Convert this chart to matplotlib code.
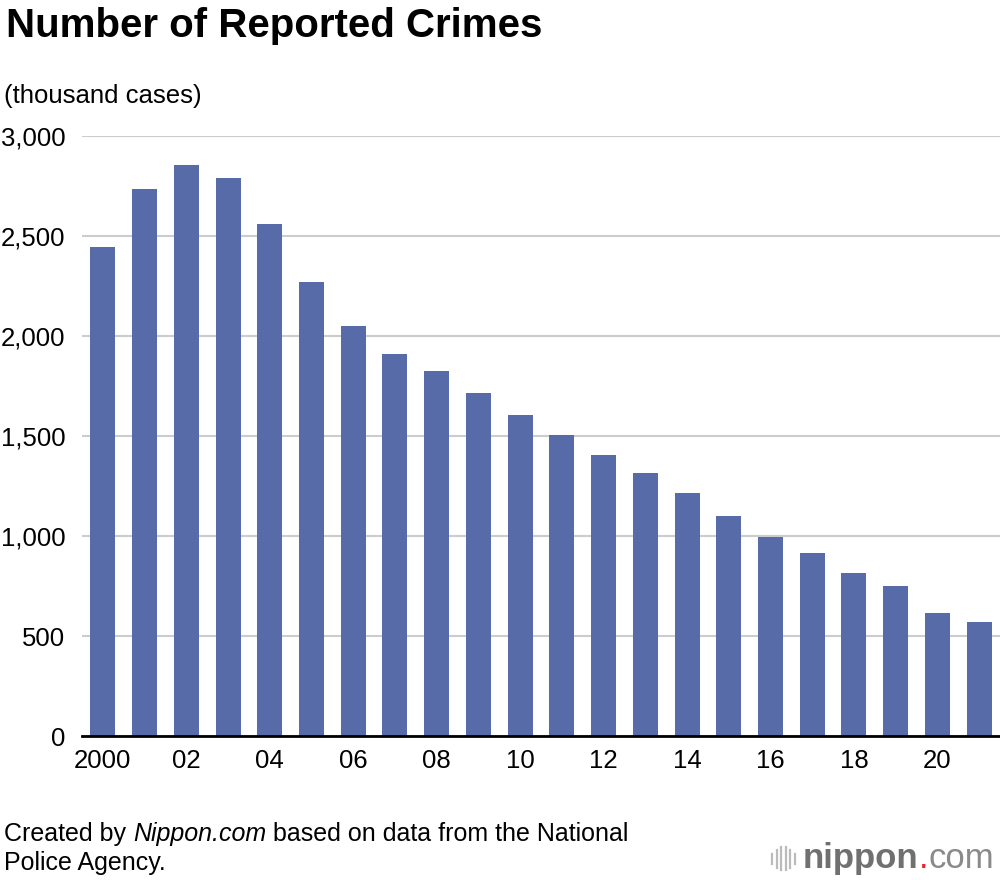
import numpy as np
import matplotlib.pyplot as plt

plt.rcParams['font.family'] = ['Liberation Sans', 'DejaVu Sans']

# reported crimes, thousand cases
years = list(range(2000, 2022))
crimes = [2443, 2736, 2854, 2790, 2562, 2269, 2051, 1909, 1826, 1714, 1605,
          1503, 1403, 1314, 1213, 1099, 997, 915, 817, 748, 614, 568]
tick_labels = ['2000', '02', '04', '06', '08', '10', '12', '14', '16', '18', '20']

fig = plt.figure(figsize=(10, 8.8), dpi=100)
ax = fig.add_axes([0.082, 0.1636, 0.918, 0.6818])

x = np.arange(len(years))
ax.bar(x, crimes, width=0.6, color='#566ba8', zorder=3)

ax.set_xlim(-0.5, len(years) - 0.5)
ax.set_ylim(0, 3000)
ax.set_yticks(range(0, 3001, 500))
ax.set_yticklabels([f'{v:,}' for v in range(0, 3001, 500)])
ax.set_xticks(x[::2])
ax.set_xticklabels(tick_labels)
ax.tick_params(axis='both', length=0, labelsize=18.5, colors='black')
ax.tick_params(axis='y', pad=12)
ax.tick_params(axis='x', pad=9)

ax.grid(axis='y', color='#cccccc', linewidth=1.5, zorder=0)
for s in ['top', 'right', 'left']:
    ax.spines[s].set_visible(False)
ax.spines['bottom'].set_linewidth(2)
ax.spines['bottom'].set_zorder(4)

# titles and notes
fig.text(0.006, 0.97, 'Number of Reported Crimes', fontsize=29, fontweight='bold',
         va='center', ha='left')
fig.text(0.004, 0.891, '(thousand cases)', fontsize=18.5, va='center', ha='left')
t1 = fig.text(0.004, 0.052, 'Created by ', fontsize=18, va='center', ha='left')
fig.canvas.draw()
r = fig.canvas.get_renderer()
bb = t1.get_window_extent(r)
x1 = bb.x1 / fig.bbox.width
t2 = fig.text(x1, 0.052, 'Nippon.com', fontsize=18, style='italic', va='center', ha='left')
bb2 = t2.get_window_extent(r)
x2 = bb2.x1 / fig.bbox.width
fig.text(x2, 0.052, ' based on data from the National', fontsize=18, va='center', ha='left')
fig.text(0.004, 0.019, 'Police Agency.', fontsize=18, va='center', ha='left')

# logo
for i, h in enumerate([0.012, 0.02, 0.026, 0.026, 0.02, 0.012]):
    xx = 0.772 + i * 0.0045
    fig.add_artist(plt.Line2D([xx, xx], [0.024 - h / 2, 0.024 + h / 2],
                              color='#bbbbbb', linewidth=1.6))
l1 = fig.text(0.803, 0.024, 'nippon', fontsize=25, fontweight='bold', color='#707070',
              va='center', ha='left')
bl = l1.get_window_extent(r)
l2 = fig.text(bl.x1 / fig.bbox.width, 0.024, '.', fontsize=25, color='#e8262d',
              va='center', ha='left')
bd = l2.get_window_extent(r)
fig.text(bd.x1 / fig.bbox.width, 0.024, 'com', fontsize=25, color='#8a8a8a',
         va='center', ha='left')

fig.savefig('out.png', dpi=100)
